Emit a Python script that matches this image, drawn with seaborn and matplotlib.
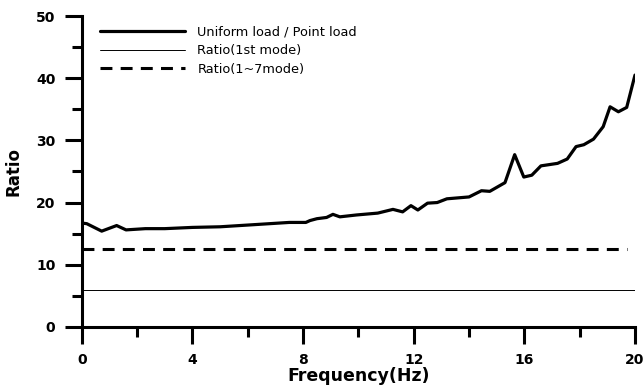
import matplotlib
matplotlib.use("Agg")
import matplotlib.pyplot as plt
import seaborn as sns
import pandas as pd
from matplotlib.ticker import MultipleLocator

# Data
freq = [0, 0.18, 0.72, 1.26, 1.6, 2.3, 3, 4, 5, 6.08, 7.5, 8.1, 8.25, 8.5, 8.85, 9.08,
        9.33, 9.93, 10.7, 11.25, 11.6, 11.9, 12.15, 12.5, 12.85, 13.2, 14.0, 14.45,
        14.75, 15.3, 15.65, 15.98, 16.27, 16.6, 17.2, 17.55, 17.87, 18.15, 18.5,
        18.85, 19.1, 19.4, 19.7, 20.0]
ratio_uniform = [16.7, 16.6, 15.4, 16.3, 15.6, 15.8, 15.8, 16.0, 16.1, 16.4, 16.8, 16.8,
                 17.1, 17.4, 17.6, 18.1, 17.7, 18.0, 18.3, 18.9, 18.5, 19.5, 18.8, 19.9,
                 20.0, 20.6, 20.9, 21.9, 21.8, 23.2, 27.7, 24.1, 24.4, 25.9, 26.3, 27.0,
                 29.0, 29.3, 30.2, 32.2, 35.4, 34.6, 35.3, 40.5]
freq_1st = [0, 20]
ratio_1st = [6.0, 6.0]
freq_17 = [0, 19.7]
ratio_17 = [12.5, 12.5]

labels = ["Uniform load / Point load", "Ratio(1st mode)", "Ratio(1~7mode)"]

sns.set_style("ticks")
plt.rcParams["font.family"] = ["DejaVu Sans"]
plt.rcParams["text.color"] = "black"
plt.rcParams["axes.labelcolor"] = "black"
plt.rcParams["xtick.color"] = "black"
plt.rcParams["ytick.color"] = "black"

fig = plt.figure(figsize=(6.44, 3.91), dpi=100)
ax = fig.add_axes([0.127, 0.164, 0.859, 0.795])

df_u = pd.DataFrame({"f": freq, "r": ratio_uniform})
df_1 = pd.DataFrame({"f": freq_1st, "r": ratio_1st})
df_7 = pd.DataFrame({"f": freq_17, "r": ratio_17})

sns.lineplot(data=df_u, x="f", y="r", ax=ax, color="black", linewidth=2.3, label=labels[0])
sns.lineplot(data=df_1, x="f", y="r", ax=ax, color="black", linewidth=0.7, label=labels[1])
sns.lineplot(data=df_7, x="f", y="r", ax=ax, color="black", linewidth=2.2, label=labels[2],
             dashes=False)
ax.lines[-1].set_dashes([3.9, 2.7])

ax.set_xlim(0, 20)
ax.set_ylim(0, 50)
ax.xaxis.set_major_locator(MultipleLocator(4))
ax.xaxis.set_minor_locator(MultipleLocator(2))
ax.yaxis.set_major_locator(MultipleLocator(10))
ax.yaxis.set_minor_locator(MultipleLocator(5))

for side in ["top", "right"]:
    ax.spines[side].set_visible(False)
for side in ["left", "bottom"]:
    ax.spines[side].set_linewidth(2.2)
    ax.spines[side].set_color("black")

ax.tick_params(axis="both", which="major", direction="out", length=12, width=2.2,
               color="black", labelcolor="black", labelsize=10, pad=7)
ax.tick_params(axis="both", which="minor", direction="out", length=7, width=2.2,
               color="black")
for lab in ax.get_xticklabels() + ax.get_yticklabels():
    lab.set_fontweight("bold")

ax.set_xlabel("Frequency(Hz)", fontsize=12.5, fontweight="bold", labelpad=0, color="black")
ax.set_ylabel("Ratio", fontsize=12, fontweight="bold", labelpad=10, color="black")

leg = ax.legend(loc="upper left", frameon=False, fontsize=9.3, handlelength=6.6,
                handletextpad=0.93, labelspacing=0.44, borderaxespad=0, borderpad=0,
                bbox_to_anchor=(0.033, 0.97))
for t in leg.get_texts():
    t.set_color("black")

fig.savefig("out.png", dpi=100)
